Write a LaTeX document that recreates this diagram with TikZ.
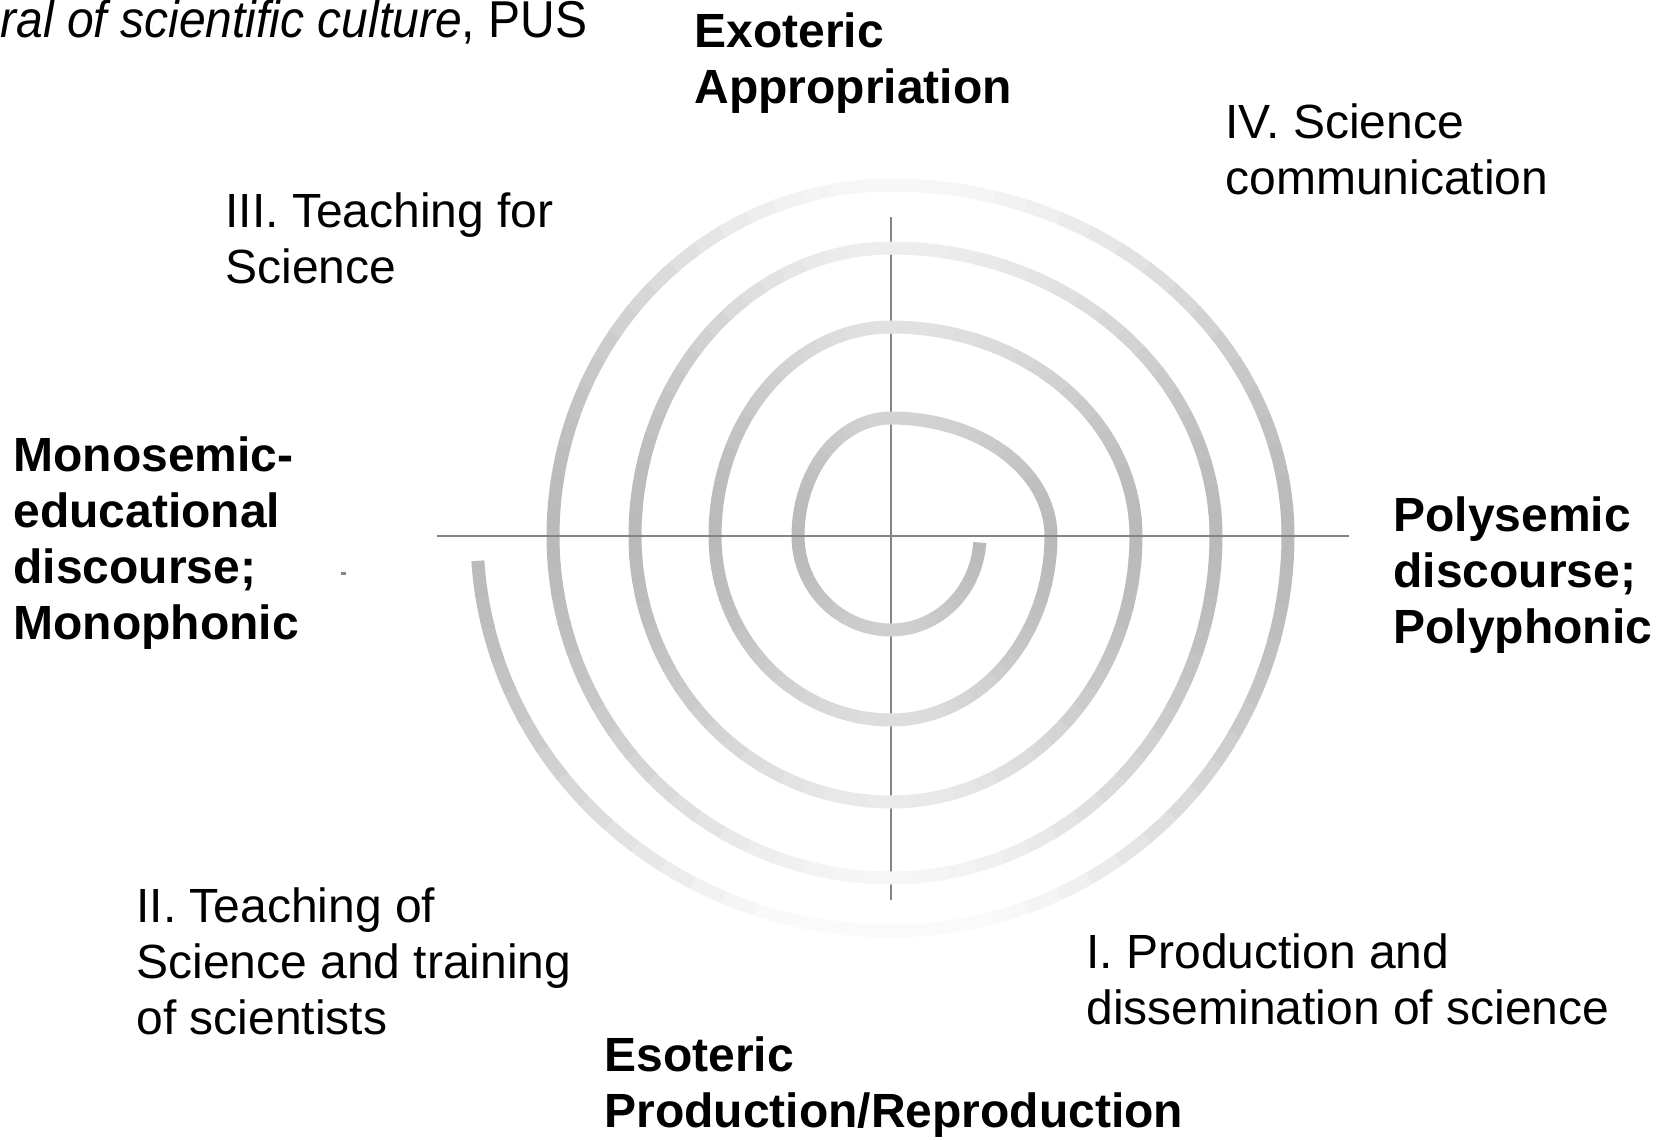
\documentclass[tikz,border=0pt]{standalone}
\usepackage{fontspec}
\setmainfont{Liberation Sans}
\definecolor{axisgray}{RGB}{132,132,132}
\begin{document}
\begin{tikzpicture}[x=0.5pt,y=0.5pt,
  axis/.style={draw=axisgray,line width=1.4pt},
  lbl/.style={font=\fontsize{24}{28}\selectfont,align=left,inner sep=0pt,anchor=north west},
  blbl/.style={lbl,font=\fontsize{24}{28}\selectfont\bfseries}]
\useasboundingbox (0,0) rectangle (1667,-1140);
\def\cx{891}\def\cy{-536}
% axes end points
\coordinate (vt) at (891,-217);
\coordinate (vb) at (891,-900);
\coordinate (hl) at (437,-536);
\coordinate (hr) at (1349,-536);
% vertical axis (under the spiral)
\draw[axis] (vt) -- (vb);
% spiral made of elliptic quarter arcs, shaded segment by segment
\foreach \a/\b/\rx/\ry in {
  -4/-90/89/94, -90/-180/93/94, -180/-270/93/118, -270/-360/160/118,
  -360/-450/160/184, -450/-540/176/184, -540/-630/176/209, -630/-720/245/209,
  -720/-810/245/266, -810/-900/256/266, -900/-990/256/288, -990/-1080/325/288,
  -1080/-1170/325/342, -1170/-1260/338/342, -1260/-1350/338/351, -1350/-1440/397/351,
  -1440/-1530/397/395, -1530/-1616/414/395}{
  \foreach \i in {0,...,17}{
    \pgfmathsetmacro\sa{\a+(\b-\a)*\i/18}
    \pgfmathsetmacro\ea{\a+(\b-\a)*(\i+1)/18-0.4}
    \pgfmathsetmacro\ma{(\sa+\ea)/2}
    \pgfmathsetmacro\rr{veclen(\rx*cos(\ma),\ry*sin(\ma))}
    \pgfmathsetmacro\ss{sin(\ma)*sin(\ma)}
    \pgfmathsetmacro\dd{max(2,27-\ss*(8+19*(\rr-90)/310))}
    \draw[line width=6.5pt,draw=black!\dd] ({\cx+\rx*cos(\sa)},{\cy+\ry*sin(\sa)})
      arc[start angle=\sa,end angle=\ea,x radius=\rx,y radius=\ry];
  }
}
% horizontal axis (over the spiral)
\draw[axis] (hl) -- (hr);
% small stray mark
\fill[axisgray] (341,-572) rectangle (346,-574.5);
% texts
\node[font=\fontsize{24}{28}\selectfont,inner sep=0pt,anchor=base west] (title) at (0,-38) {\scalebox{1}[1.08]{\textit{ral of scientific culture}, PUS}};
\node[blbl] (exo) at (694,-12) {Exoteric\\Appropriation};
\node[lbl] (iv) at (1225,-103) {IV. Science\\communication};
\node[lbl] (iii) at (225,-192) {III. Teaching for\\Science};
\node[blbl] (mono) at (13,-436) {Monosemic-\\educational\\discourse;\\Monophonic};
\node[blbl] (poly) at (1393,-496) {Polysemic\\discourse;\\Polyphonic};
\node[lbl] (ii) at (136,-887) {II. Teaching of\\Science and training\\of scientists};
\node[lbl] (i) at (1086,-933) {I. Production and\\dissemination of science};
\node[blbl] (eso) at (604,-1036) {Esoteric\\Production/Reproduction};
\end{tikzpicture}
\end{document}
